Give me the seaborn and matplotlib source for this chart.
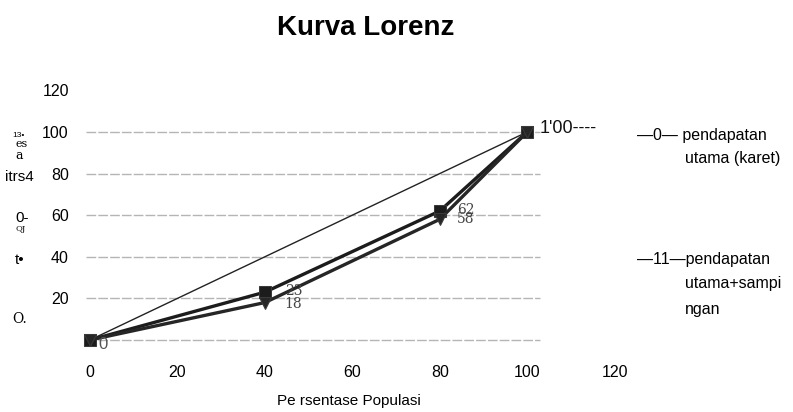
import pandas as pd
import seaborn as sns
import matplotlib.pyplot as plt

# data
populasi = [0, 40, 80, 100]
utama_karet = [0, 23, 62, 100]
utama_sampingan = [0, 18, 58, 100]
pemerataan = [0, 100]
x_ticks = [0, 20, 40, 60, 80, 100, 120]
y_ticks = [20, 40, 60, 80, 100, 120]
grid_y = [0, 20, 40, 60, 80, 100]

df = pd.DataFrame({
    "Populasi": populasi * 2,
    "Pendapatan": utama_karet + utama_sampingan,
    "seri": ["karet"] * 4 + ["sampingan"] * 4,
})

sns.set_style("white")
plt.rcParams["font.family"] = ["Liberation Sans", "DejaVu Sans"]
plt.rcParams["text.color"] = "black"
plt.rcParams["xtick.color"] = "black"
plt.rcParams["ytick.color"] = "black"

fig = plt.figure(figsize=(7.93, 4.12), dpi=100)
ax = fig.add_axes([0.1025, 0.1243, 0.6836, 0.6665])

# gridlines
for g in grid_y:
    ax.hlines(g, -1, 103, color="#b5b5b5", lw=1.0, ls=(0, (7, 1.5)), zorder=0)

# equality line
sns.lineplot(x=pemerataan, y=pemerataan, ax=ax, color="#222222", lw=1.0, zorder=2)

sns.lineplot(data=df, x="Populasi", y="Pendapatan", hue="seri", style="seri",
             markers={"karet": "s", "sampingan": "v"}, dashes=False,
             palette={"karet": "#1c1c1c", "sampingan": "#262626"},
             lw=2.4, markersize=9, markeredgecolor="#3a3a3a", legend=False,
             ax=ax, zorder=3)

# data labels
serif = "DejaVu Serif"
ax.text(2.0, -2.0, "0", fontsize=12, color="#555555", va="center", family="Liberation Sans")
ax.text(44.5, 23.5, "23", fontsize=10, color="#444444", va="center", family=serif)
ax.text(44.5, 17.5, "18", fontsize=10, color="#444444", va="center", family=serif)
ax.text(84.0, 62.5, "62", fontsize=10, color="#444444", va="center", family=serif)
ax.text(84.0, 58.0, "58", fontsize=10, color="#444444", va="center", family=serif)
ax.text(102.8, 101.5, "1'00----", fontsize=13, color="#111111", va="center")

ax.set_xlim(-2, 122)
ax.set_ylim(-10, 122)
ax.set_xticks(x_ticks)
ax.set_yticks(y_ticks)
ax.tick_params(axis="x", labelsize=11.5, length=0, pad=3)
ax.tick_params(axis="y", labelsize=11.5, length=0, pad=9)
for s in ax.spines.values():
    s.set_visible(False)
ax.set_xlabel("")
ax.set_ylabel("")

fig.text(0.44, 0.027, "Pe rsentase Populasi", fontsize=11, ha="center", va="center")
fig.text(0.461, 0.932, "Kurva Lorenz", fontsize=20, fontweight="bold", ha="center", va="center")

# garbled y-axis label from the scan
fig.text(0.016, 0.67, "13•", fontsize=6, va="center")
fig.text(0.019, 0.65, "es", fontsize=8, family=serif, va="center")
fig.text(0.019, 0.622, "a", fontsize=9, family=serif, va="center")
fig.text(0.006, 0.57, "itrs4", fontsize=11, va="center")
fig.text(0.019, 0.472, "0-", fontsize=11, va="center")
fig.text(0.019, 0.445, "QJ", fontsize=6, family=serif, va="center")
fig.text(0.019, 0.37, "t•", fontsize=11, va="center")
fig.text(0.016, 0.225, "O.", fontsize=10, family=serif, va="center")

# legend text
fig.text(0.803, 0.672, "—0— pendapatan", fontsize=11.5, va="center")
fig.text(0.864, 0.616, "utama (karet)", fontsize=11.5, va="center")
fig.text(0.803, 0.369, "—11—pendapatan", fontsize=11.5, va="center")
fig.text(0.864, 0.311, "utama+sampi", fontsize=11.5, va="center")
fig.text(0.864, 0.248, "ngan", fontsize=11.5, va="center")

fig.savefig("out.png", dpi=100)
